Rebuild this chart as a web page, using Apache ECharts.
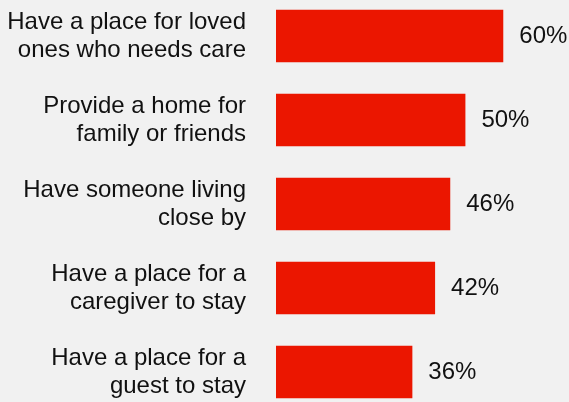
<!DOCTYPE html>
<html>
<head>
<meta charset="utf-8">
<script src="https://cdn.jsdelivr.net/npm/echarts@6/dist/echarts.min.js"></script>
<style>
  html, body { margin: 0; padding: 0; background: #f1f1f1; }
  #chart { width: 569px; height: 402px; }
</style>
</head>
<body>
<div id="chart"></div>
<script>
// Reasons for having an extra living space (share of respondents)
const categories = [
  'Have a place for loved\nones who needs care',
  'Provide a home for\nfamily or friends',
  'Have someone living\nclose by',
  'Have a place for a\ncaregiver to stay',
  'Have a place for a\nguest to stay'
];
const values = [60, 50, 46, 42, 36];

const chart = echarts.init(document.getElementById('chart'));
chart.setOption({
  backgroundColor: '#f1f1f1',
  animation: false,
  grid: {
    left: 276, top: -6, width: 284.1, height: 420,
    containLabel: false,
    outerBoundsMode: 'none'
  },
  xAxis: {
    type: 'value',
    min: 0,
    max: 75,
    show: false
  },
  yAxis: {
    type: 'category',
    inverse: true,
    data: categories,
    axisLine: { show: false },
    axisTick: { show: false },
    axisLabel: {
      margin: 30,
      align: 'right',
      fontFamily: 'Liberation Sans, Arial, sans-serif',
      fontSize: 24,
      lineHeight: 28,
      color: '#111111'
    }
  },
  series: [{
    type: 'bar',
    data: values,
    barWidth: 52.5,
    itemStyle: { color: '#eb1600' },
    label: {
      show: true,
      position: 'right',
      distance: 16,
      formatter: '{c}%',
      fontFamily: 'Liberation Sans, Arial, sans-serif',
      fontSize: 24,
      color: '#111111'
    }
  }]
});
</script>
</body>
</html>
